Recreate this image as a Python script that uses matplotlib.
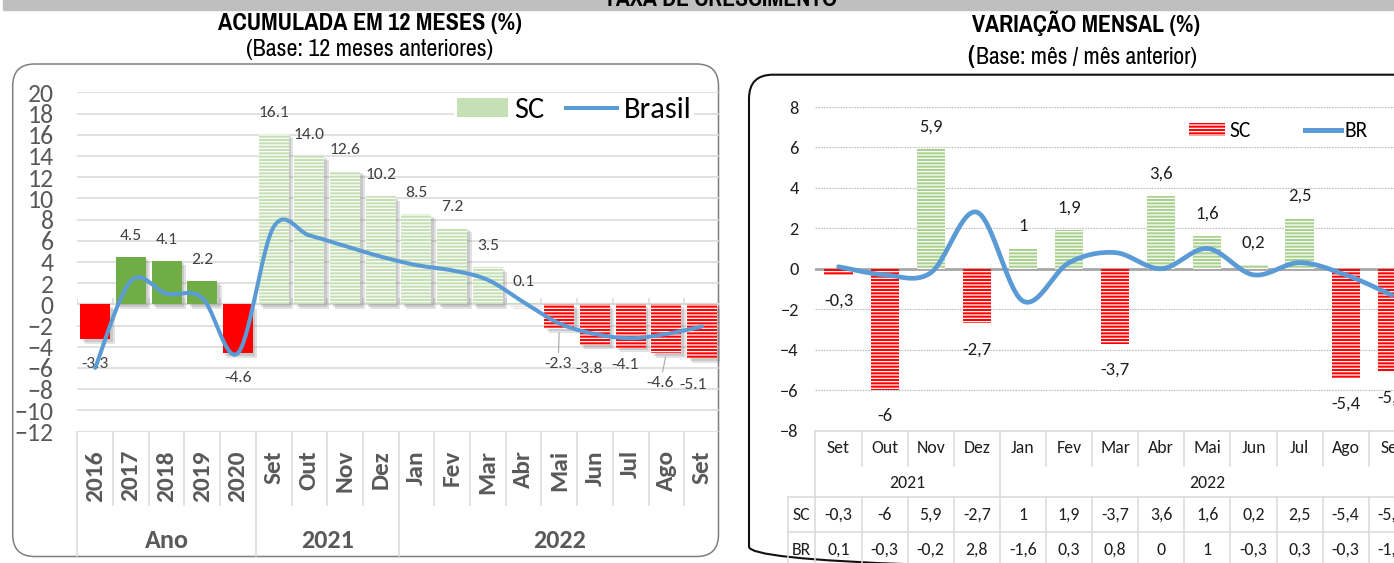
import numpy as np
import matplotlib
matplotlib.use('Agg')
import matplotlib.pyplot as plt
from matplotlib import transforms
from matplotlib.patches import FancyBboxPatch, Rectangle, Patch
from matplotlib.lines import Line2D

# ---------------- dados: acumulado em 12 meses ----------------
cats_acum = ['2016', '2017', '2018', '2019', '2020', 'Set', 'Out', 'Nov', 'Dez',
             'Jan', 'Fev', 'Mar', 'Abr', 'Mai', 'Jun', 'Jul', 'Ago', 'Set']
grupos_acum = ['Ano', '2021', '2022']
tam_grupos_acum = [5, 4, 9]
sc_acum = [-3.3, 4.5, 4.1, 2.2, -4.6, 16.1, 14.0, 12.6, 10.2, 8.5, 7.2, 3.5, 0.1,
           -2.3, -3.8, -4.1, -4.6, -5.1]
br_acum = [-6.0, 2.2, 1.0, 0.6, -4.6, 7.3, 6.5, 5.5, 4.5, 3.7, 3.2, 2.3, 0.2,
           -1.8, -2.8, -3.2, -2.8, -2.1]
n_anuais = 5

# ---------------- dados: variacao mensal ----------------
meses = ['Set', 'Out', 'Nov', 'Dez', 'Jan', 'Fev', 'Mar', 'Abr', 'Mai', 'Jun',
         'Jul', 'Ago', 'Set']
anos_mensal = ['2021', '2022']
tam_anos_mensal = [4, 9]
sc_mensal = [-0.3, -6, 5.9, -2.7, 1, 1.9, -3.7, 3.6, 1.6, 0.2, 2.5, -5.4, -5.1]
br_mensal = [0.1, -0.3, -0.2, 2.8, -1.6, 0.3, 0.8, 0, 1, -0.3, 0.3, -0.3, -1.3]

CALIBRI = ['Carlito', 'Liberation Sans', 'DejaVu Sans']
ESTREITA = ['Pragati Narrow', 'PT Sans Narrow', 'Fira Sans Condensed', 'Carlito', 'DejaVu Sans']
plt.rcParams['font.family'] = CALIBRI
plt.rcParams['hatch.linewidth'] = 0.9

AZUL = '#5B9BD5'
VERMELHO = '#FF0000'
CINZA_G = '#D9D9D9'


def curva_suave(ys, n=24):
    """suavizacao tipo Excel (bezier com controles a 1/6)"""
    y = np.asarray(ys, float)
    pts = np.column_stack([np.arange(len(y), dtype=float), y])
    m = len(pts)
    t = np.linspace(0, 1, n)[:, None]
    seg = []
    for i in range(m - 1):
        p0, p3 = pts[i], pts[i + 1]
        c1 = p0 + (pts[i + 1] - pts[max(i - 1, 0)]) / 6
        c2 = p3 - (pts[min(i + 2, m - 1)] - pts[i]) / 6
        b = (1 - t) ** 3 * p0 + 3 * (1 - t) ** 2 * t * c1 + 3 * (1 - t) * t ** 2 * c2 + t ** 3 * p3
        seg.append(b if i == 0 else b[1:])
    b = np.vstack(seg)
    return b[:, 0], b[:, 1]


W, H = 1394, 563
fig = plt.figure(figsize=(W / 100, H / 100), dpi=100)
pix = transforms.Affine2D().scale(1 / W, -1 / H).translate(0, 1) + fig.transFigure


def fy(p):
    return 1 - p / H


def fx(p):
    return p / W


# faixa superior
fig.add_artist(Rectangle((3, 0), W, 9.5, transform=pix, color='#BFBFBF', zorder=3))
titulos = []
titulos.append((fig.text(721, 6, 'TAXA DE CRESCIMENTO', transform=pix, ha='center', va='baseline',
                         family=ESTREITA, weight='bold', size=17, zorder=4), 234))

# titulos
titulos.append((fig.text(370, 23, 'ACUMULADA EM 12 MESES (%)', transform=pix, ha='center', va='center',
                         family=ESTREITA, weight='bold', size=17), 304))
titulos.append((fig.text(370, 49, '(Base: 12 meses anteriores)', transform=pix, ha='center', va='center',
                         family=ESTREITA, size=17), 248))
titulos.append((fig.text(1086, 23, 'VARIAÇÃO MENSAL (%)', transform=pix, ha='center', va='center',
                         family=ESTREITA, weight='bold', size=17), 228))
fig.text(967, 57, '(', transform=pix, ha='left', va='center', family=ESTREITA,
         weight='bold', size=20)
titulos.append((fig.text(976, 58, 'Base: mês / mês anterior)', transform=pix, ha='left', va='center',
                         family=ESTREITA, size=17), 222))

# molduras arredondadas
fig.add_artist(FancyBboxPatch((12.7, 64), 705.8, 492.5, boxstyle='round,pad=0,rounding_size=22',
                              transform=pix, facecolor='none', edgecolor='#7F7F7F', lw=1.1, zorder=-1))
fig.add_artist(FancyBboxPatch((749, 74.7), 700, 496, boxstyle='round,pad=0,rounding_size=24',
                              transform=pix, facecolor='none', edgecolor='#111111', lw=1.5, zorder=-1))

# ======================= grafico acumulado =======================
axL = fig.add_axes([fx(77.3), fy(431.5), 642.6 / W, 339.2 / H])
axL.set_facecolor('none')
xL = np.arange(len(cats_acum))
cores, hachuras = [], []
for i, v in enumerate(sc_acum):
    if i < n_anuais:
        cores.append('#70AD47' if v >= 0 else VERMELHO)
        hachuras.append(None)
    else:
        cores.append('#C5E0B4' if v >= 0 else VERMELHO)
        hachuras.append('-----')

for dx, a in [(4.5, 0.22), (2.5, 0.25)]:
    sombra = transforms.offset_copy(axL.transData, fig=fig, x=dx, y=-dx, units='dots')
    axL.bar(xL, sc_acum, 0.84, color='#7F7F7F', alpha=a, transform=sombra, zorder=2)
barras = axL.bar(xL, sc_acum, 0.84, color=cores, edgecolor='white', lw=0, zorder=3)
for b, h in zip(barras, hachuras):
    if h:
        b.set_hatch(h)
    else:
        b.set_edgecolor(b.get_facecolor())

axL.axhline(0, color=CINZA_G, lw=1.6, zorder=1)
axL.vlines(np.arange(len(cats_acum) + 1) - 0.5, 0, 0.6, color=CINZA_G, lw=1.1, zorder=1)

xs, ys = curva_suave(br_acum)
axL.plot(xs, ys, color=AZUL, lw=2.9, zorder=6, solid_capstyle='round')

ajustes = {13: (-1, -35), 14: (-6, -24), 15: (-6, -17), 16: (-6, -30), 17: (-9, -27)}
for i, v in enumerate(sc_acum):
    dx, dy = ajustes.get(i, (0, 21 if v >= 0 else -25))
    seta = dict(arrowstyle='-', color='#A6A6A6', lw=0.8, shrinkA=1, shrinkB=3) if i in (13, 16) else None
    axL.annotate(f'{v:.1f}', (i, v), xytext=(dx, dy), textcoords='offset pixels',
                 ha='center', va='center', size=12.6, color='#404040',
                 zorder=5, arrowprops=seta)

axL.set_xlim(-0.5, len(cats_acum) - 0.5)
axL.set_ylim(-12, 20)
axL.set_yticks(range(-12, 21, 2))
axL.set_xticks([])
axL.grid(axis='y', color=CINZA_G, lw=1.1)
axL.set_axisbelow(True)
axL.tick_params(axis='y', length=0, pad=17, labelsize=18.5, labelcolor='#595959')
for s in axL.spines.values():
    s.set_visible(False)

leg = axL.legend([Patch(facecolor='#C5E0B4', edgecolor='none'),
                  Line2D([], [], color=AZUL, lw=2.9)], ['SC', 'Brasil'],
                 loc='center left', bbox_to_anchor=(fx(454), fy(110)), bbox_transform=fig.transFigure,
                 ncol=2, prop={'size': 22}, handlelength=1.67, handleheight=0.56,
                 handletextpad=0.2, columnspacing=0.72, borderpad=0.1, borderaxespad=0,
                 frameon=True, facecolor='white', edgecolor='none', framealpha=1)
leg.set_zorder(7)

# eixo de categorias com niveis
blL = transforms.blended_transform_factory(axL.transData, fig.transFigure)
for i, c in enumerate(cats_acum):
    axL.text(i, fy(450), c, transform=blL, rotation=90, ha='center', va='top',
             weight='bold', size=18.3, color='#595959')
limites = np.cumsum([0] + tam_grupos_acum)
for k in range(len(cats_acum)):
    fim = 556 if k in limites else 505
    axL.add_artist(Line2D([k - 0.5, k - 0.5], [fy(432), fy(fim)], transform=blL,
                          color=CINZA_G, lw=1.1, clip_on=False))
for g, a, b in zip(grupos_acum, limites[:-1], limites[1:]):
    axL.text((a + b - 1) / 2, fy(540), g, transform=blL, ha='center', va='center',
             weight='bold', size=18.8, color='#595959')

# ======================= grafico mensal =======================
axR = fig.add_axes([fx(815.5), fy(430.5), 599.3 / W, 323.5 / H])
axR.set_facecolor('none')
xR = np.arange(len(meses))
coresR = ['#A9D18E' if v >= 0 else VERMELHO for v in sc_mensal]
barrasR = axR.bar(xR, sc_mensal, 0.61, color=coresR, edgecolor='white', lw=0, zorder=3)
for b in barrasR:
    b.set_hatch('-----')

axR.axhline(0, color='#A6A6A6', lw=2, zorder=2)
xs, ys = curva_suave(br_mensal)
axR.plot(xs, ys, color=AZUL, lw=3.4, zorder=6, solid_capstyle='round')


def fmt_br(v):
    return f'{v:g}'.replace('.', ',')


for i, v in enumerate(sc_mensal):
    axR.annotate(fmt_br(v), (i, v), xytext=(0, 22.5 if v >= 0 else -26), textcoords='offset pixels',
                 ha='center', va='center', size=13.4, color='#1F1F1F', zorder=5)

axR.set_xlim(-0.5, len(meses) - 0.5)
axR.set_ylim(-8, 8)
axR.set_yticks(range(-8, 9, 2))
axR.set_xticks([])
axR.grid(axis='y', color='#BFBFBF', lw=0.8, ls=(0, (1.5, 1)))
axR.set_axisbelow(True)
axR.tick_params(axis='y', length=0, pad=12, labelsize=13.2, labelcolor='#1F1F1F')
for s in axR.spines.values():
    s.set_visible(False)

legR = axR.legend([Patch(facecolor=VERMELHO, edgecolor='white', lw=0, hatch='-----'),
                   Line2D([], [], color=AZUL, lw=3.6)], ['SC', 'BR'],
                  loc='center left', bbox_to_anchor=(fx(1187), fy(131)), bbox_transform=fig.transFigure,
                  ncol=2, prop={'size': 15.5}, handlelength=1.67, handleheight=0.59,
                  handletextpad=0.2, columnspacing=2.5, borderpad=0.1, borderaxespad=0,
                  frameon=False)

# tabela de dados
blR = transforms.blended_transform_factory(axR.transData, fig.transFigure)
txt = dict(size=12.8, color='#1F1F1F', ha='center', va='center')
for i, m in enumerate(meses):
    axR.text(i, fy(448), m, transform=blR, **txt)
    axR.text(i, fy(514.7), fmt_br(sc_mensal[i]), transform=blR, **txt)
    axR.text(i, fy(549.7), fmt_br(br_mensal[i]), transform=blR, **txt)
limR = np.cumsum([0] + tam_anos_mensal)
for g, a, b in zip(anos_mensal, limR[:-1], limR[1:]):
    axR.text((a + b - 1) / 2, fy(483), g, transform=blR, **txt)
fig.text(801, 514.7, 'SC', transform=pix, **txt)
fig.text(801, 549.7, 'BR', transform=pix, **txt)

for k in range(len(meses) + 1):
    if k in limR:
        segs = [(430.5, 575)]
    else:
        segs = [(430.5, 466), (497.3, 575)]
    for y0, y1 in segs:
        axR.add_artist(Line2D([k - 0.5, k - 0.5], [fy(y0), fy(y1)], transform=blR,
                              color=CINZA_G, lw=1.1, clip_on=False))
for yy in (430.5, 497.3, 532.3):
    x0 = 815.5 if yy == 430.5 else 788
    fig.add_artist(Line2D([x0, 1500], [yy, yy], transform=pix, color=CINZA_G, lw=1.1))
fig.add_artist(Line2D([788, 788], [497.3, 575], transform=pix, color=CINZA_G, lw=1.1))

# ajusta os titulos a largura medida na referencia
fig.canvas.draw()
rend = fig.canvas.get_renderer()
for t, largura in titulos:
    t.set_size(t.get_size() * largura / t.get_window_extent(rend).width)

fig.savefig('out.png', dpi=100)
